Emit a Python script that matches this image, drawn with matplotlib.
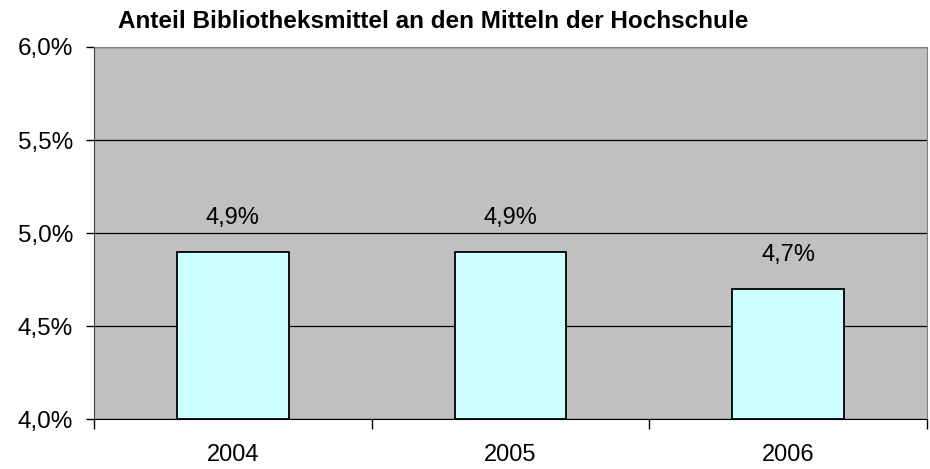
import numpy as np
import matplotlib.pyplot as plt
from matplotlib.ticker import FixedLocator

plt.rcParams['font.family'] = ['Liberation Sans', 'DejaVu Sans']

years = ['2004', '2005', '2006']
anteil = [4.9, 4.9, 4.7]
y_ticks = [4.0, 4.5, 5.0, 5.5, 6.0]

fig = plt.figure(figsize=(9.3, 4.69), dpi=100)
ax = fig.add_axes([94 / 930, 1 - 419 / 469, 833 / 930, 372 / 469])

x = np.arange(len(years))
ax.set_facecolor('#c0c0c0')
ax.bar(x, [v - 4.0 for v in anteil], bottom=4.0, width=0.402,
       color='#ccffff', edgecolor='black', linewidth=1.3, zorder=3)

for xi, v in zip(x, anteil):
    ax.text(xi, v + 0.18, f'{v:.1f}%'.replace('.', ','), ha='center', va='center',
            fontsize=17, zorder=4)

ax.set_xlim(-0.5, 2.5)
ax.set_ylim(4.0, 6.0)
ax.set_yticks(y_ticks)
ax.set_yticklabels([f'{t:.1f}%'.replace('.', ',') for t in y_ticks], fontsize=17.5)
ax.set_xticks(x)
ax.set_xticklabels(years, fontsize=17)
ax.tick_params(axis='x', which='major', length=0, pad=18)
ax.xaxis.set_minor_locator(FixedLocator([-0.5, 0.5, 1.5, 2.5]))
ax.tick_params(axis='x', which='minor', length=7, width=1, direction='out')
ax.tick_params(axis='y', length=6, width=1, direction='out', pad=9)

ax.grid(axis='y', color='black', linewidth=0.9, zorder=1)
ax.set_axisbelow(True)

ax.spines['left'].set_color('#404040')
ax.spines['bottom'].set_color('black')
ax.spines['top'].set_color('#808080')
ax.spines['right'].set_color('#808080')

fig.text(118 / 930, 1 - 22 / 469, 'Anteil Bibliotheksmittel an den Mitteln der Hochschule',
         fontsize=17.5, fontweight='bold', va='center', ha='left')

fig.savefig('out.png', dpi=100)
